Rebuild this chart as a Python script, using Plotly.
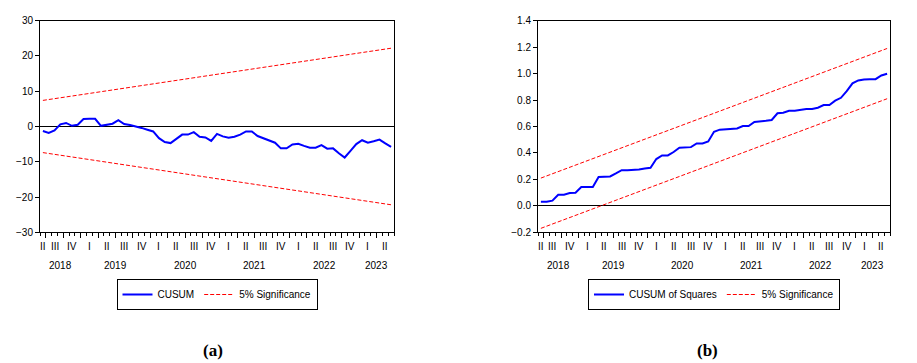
import pandas as pd
import plotly.graph_objects as go

# 관측 월 (2018.06 ~ 2023.06, 월별)
months = pd.date_range("2018-06-01", "2023-06-01", freq="MS")

# (a) CUSUM 값
cusum = [-1.3, -1.8, -1.1, 0.6, 1.0, 0.2, 0.5, 2.1, 2.2, 2.2,
         0.2, 0.6, 0.8, 1.8, 0.7, 0.4, 0.1, -0.4, -0.9, -1.4,
         -3.3, -4.4, -4.7, -3.6, -2.3, -2.3, -1.6, -2.9, -3.1, -4.1,
         -2.1, -2.8, -3.2, -2.9, -2.3, -1.4, -1.4, -2.7, -3.4, -4.0,
         -4.6, -6.2, -6.2, -5.1, -4.9, -5.5, -6.0, -6.0, -5.3, -6.3,
         -6.2, -7.6, -8.8, -6.9, -5.0, -3.9, -4.6, -4.2, -3.7, -4.8,
         -5.8]
cusum_upper = [7.4, 22.2]
cusum_lower = [-7.4, -22.2]

# (b) CUSUM of Squares 값
cusumsq = [0.031, 0.031, 0.039, 0.084, 0.084, 0.097, 0.099, 0.142, 0.142, 0.142,
           0.218, 0.220, 0.222, 0.245, 0.270, 0.270, 0.270, 0.275, 0.283, 0.288,
           0.354, 0.381, 0.381, 0.407, 0.440, 0.442, 0.444, 0.472, 0.472, 0.487,
           0.560, 0.576, 0.578, 0.578, 0.585, 0.603, 0.603, 0.634, 0.636, 0.643,
           0.649, 0.700, 0.704, 0.719, 0.719, 0.727, 0.732, 0.732, 0.742, 0.762,
           0.762, 0.795, 0.817, 0.867, 0.926, 0.948, 0.956, 0.958, 0.958, 0.986,
           0.999]
sq_upper = [0.21, 1.19]
sq_lower = [-0.17, 0.81]

roman = {1: "I", 2: "II", 3: "III", 4: "IV"}
FONT = "Liberation Sans, Arial, sans-serif"
BLUE = "#0000FF"
RED = "#FF0000"

W, H = 917, 363
OFF = 8  # 페이지 body 기본 여백 보정


def px_x(p):
    return (p - OFF) / W


def px_y(p):
    return 1 - (p - OFF) / H


x = list(range(len(months)))
ends = [x[0], x[-1]]

# 눈금 위치: 월 경계(보조), 분기 경계(주)
month_bounds = [i - 0.5 for i in x] + [x[-1] + 0.5]
quarter_bounds = [i - 0.5 for i, m in enumerate(months) if m.month in (1, 4, 7, 10)]

df = pd.DataFrame({"i": x, "q": months.quarter, "y": months.year})
q_pos = df.groupby(["y", "q"])["i"].mean().reset_index()
y_pos = df.groupby("y")["i"].mean().reset_index()

fig = go.Figure()

# (a) CUSUM
fig.add_trace(go.Scatter(x=x, y=cusum, mode="lines", name="CUSUM",
                         line=dict(color=BLUE, width=2),
                         xaxis="x", yaxis="y", legend="legend"))
fig.add_trace(go.Scatter(x=ends, y=cusum_upper, mode="lines", name="5% Significance",
                         line=dict(color=RED, width=1, dash="4px,2px"),
                         xaxis="x", yaxis="y", legend="legend"))
fig.add_trace(go.Scatter(x=ends, y=cusum_lower, mode="lines", showlegend=False,
                         line=dict(color=RED, width=1, dash="4px,2px"),
                         xaxis="x", yaxis="y"))

# (b) CUSUM of Squares
fig.add_trace(go.Scatter(x=x, y=cusumsq, mode="lines", name="CUSUM of Squares",
                         line=dict(color=BLUE, width=2),
                         xaxis="x2", yaxis="y2", legend="legend2"))
fig.add_trace(go.Scatter(x=ends, y=sq_upper, mode="lines", name="5% Significance",
                         line=dict(color=RED, width=1, dash="4px,2px"),
                         xaxis="x2", yaxis="y2", legend="legend2"))
fig.add_trace(go.Scatter(x=ends, y=sq_lower, mode="lines", showlegend=False,
                         line=dict(color=RED, width=1, dash="4px,2px"),
                         xaxis="x2", yaxis="y2"))

dom_y = [px_y(232.3), px_y(20.7)]

xcommon = dict(range=[-0.5, x[-1] + 0.5], showgrid=False, zeroline=False,
               showline=True, mirror=True, linecolor="black", linewidth=1,
               tickmode="array", tickvals=quarter_bounds, ticks="outside",
               ticklen=5, tickcolor="black", showticklabels=False, automargin=False,
               minor=dict(tickmode="array", tickvals=month_bounds, ticks="outside",
                          ticklen=3, tickcolor="black"))
ycommon = dict(showgrid=False, zeroline=True, zerolinecolor="black", zerolinewidth=1,
               showline=True, mirror=True, linecolor="black", linewidth=1,
               ticks="outside", ticklen=4, tickcolor="black", automargin=False,
               tickfont=dict(family=FONT, size=10, color="black"))

legend_common = dict(y=px_y(279), xanchor="center", yanchor="top",
                     orientation="h", bordercolor="black", borderwidth=1,
                     font=dict(family=FONT, size=10), itemwidth=30,
                     tracegroupgap=0, bgcolor="white")

fig.update_layout(
    template="none",
    width=W, height=H, autosize=False,
    margin=dict(l=0, r=0, t=0, b=0, pad=0, autoexpand=False),
    paper_bgcolor="white", plot_bgcolor="white",
    font=dict(family=FONT, size=10, color="black"),
    xaxis=dict(domain=[px_x(40), px_x(394)], anchor="y", **xcommon),
    yaxis=dict(domain=dom_y, anchor="x", range=[-30, 30], dtick=10, **ycommon),
    xaxis2=dict(domain=[px_x(538), px_x(890)], anchor="y2", **xcommon),
    yaxis2=dict(domain=dom_y, anchor="x2", range=[-0.2, 1.4], dtick=0.2,
                tickformat=".1f", **ycommon),
    legend=dict(x=px_x(217), **legend_common),
    legend2=dict(x=px_x(714), **legend_common),
    showlegend=True,
)

# 분기/연도 라벨
for xr in ["x", "x2"]:
    for _, r in q_pos.iterrows():
        fig.add_annotation(x=r["i"], y=px_y(246), xref=xr, yref="paper",
                           xanchor="center", yanchor="middle",
                           text=roman[int(r["q"])], showarrow=False,
                           font=dict(family=FONT, size=10, color="black"))
    for _, r in y_pos.iterrows():
        fig.add_annotation(x=r["i"], y=px_y(265), xref=xr, yref="paper",
                           xanchor="center", yanchor="middle",
                           text=str(int(r["y"])), showarrow=False,
                           font=dict(family=FONT, size=10, color="black"))

for lab, xc in [("(a)", 213), ("(b)", 707)]:
    fig.add_annotation(x=px_x(xc), y=px_y(350), xref="paper", yref="paper",
                       xanchor="center", yanchor="middle",
                       text=f"<b>{lab}</b>", showarrow=False,
                       font=dict(family="Liberation Serif, Times New Roman, serif",
                                 size=17, color="black"))

fig.write_html("out.html")
